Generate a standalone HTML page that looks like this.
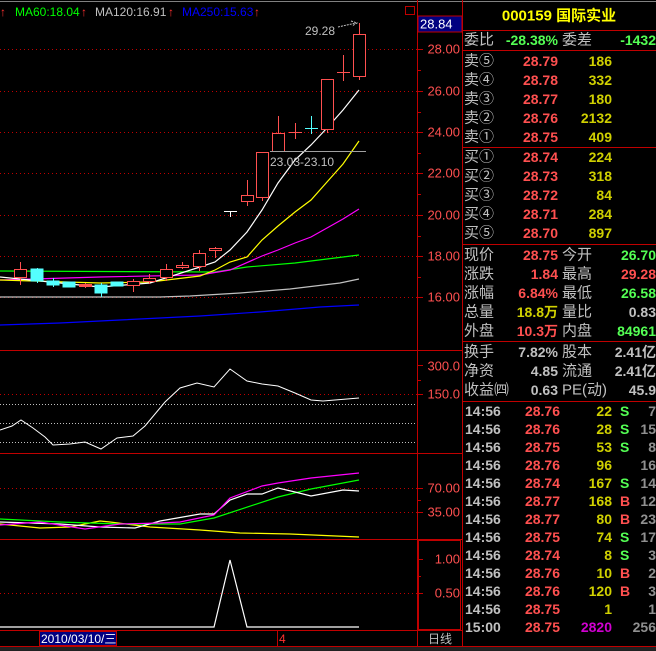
<!DOCTYPE html>
<html><head><meta charset="utf-8"><style>
html,body{margin:0;padding:0;background:#000;}
svg{display:block;}
text{font-family:"Liberation Sans","Noto Sans CJK SC",sans-serif;}
</style></head><body>
<svg width="656" height="651" viewBox="0 0 656 651" xmlns="http://www.w3.org/2000/svg">
<rect width="656" height="651" fill="#000"/>
<line x1="0" y1="1.5" x2="656" y2="1.5" stroke="#808080" stroke-width="1"/>
<!-- grid dotted lines -->
<g stroke="#c00000" stroke-dasharray="1,3" stroke-width="1">
<line x1="0" y1="49.5" x2="417" y2="49.5"/><line x1="0" y1="91.5" x2="417" y2="91.5"/>
<line x1="0" y1="132.5" x2="417" y2="132.5"/><line x1="0" y1="173.5" x2="417" y2="173.5"/>
<line x1="0" y1="215.5" x2="417" y2="215.5"/><line x1="0" y1="256.5" x2="417" y2="256.5"/>
<line x1="0" y1="297.5" x2="417" y2="297.5"/>
<line x1="0" y1="394.5" x2="417" y2="394.5"/>
<line x1="0" y1="488.5" x2="417" y2="488.5"/><line x1="0" y1="512.5" x2="417" y2="512.5"/>
<line x1="0" y1="593.5" x2="417" y2="593.5"/>
</g>
<g stroke="#c0c0c0" stroke-dasharray="1,2" stroke-width="1">
<line x1="0" y1="404.5" x2="417" y2="404.5"/><line x1="0" y1="423.5" x2="417" y2="423.5"/><line x1="0" y1="442.5" x2="417" y2="442.5"/>
</g>
<!-- frame lines -->
<g stroke="#c00000" stroke-width="1">
<line x1="417.5" y1="0" x2="417.5" y2="646"/>
<line x1="462.5" y1="0" x2="462.5" y2="651"/>
<line x1="0" y1="350.5" x2="462" y2="350.5"/>
<line x1="0" y1="453.5" x2="462" y2="453.5"/>
<line x1="0" y1="539.5" x2="462" y2="539.5"/>
<line x1="0" y1="630.5" x2="462" y2="630.5"/>
<line x1="0" y1="646.5" x2="656" y2="646.5"/>
<rect x="418.5" y="540.5" width="42" height="89" fill="none"/>
<line x1="277.5" y1="630" x2="277.5" y2="646"/>
<!-- y ticks -->
<line x1="417" y1="49.5" x2="423" y2="49.5"/><line x1="417" y1="91.5" x2="423" y2="91.5"/><line x1="417" y1="132.5" x2="423" y2="132.5"/><line x1="417" y1="173.5" x2="423" y2="173.5"/><line x1="417" y1="215.5" x2="423" y2="215.5"/><line x1="417" y1="256.5" x2="423" y2="256.5"/><line x1="417" y1="297.5" x2="423" y2="297.5"/>
<line x1="417" y1="70.5" x2="421" y2="70.5"/><line x1="417" y1="112.5" x2="421" y2="112.5"/><line x1="417" y1="153.5" x2="421" y2="153.5"/><line x1="417" y1="194.5" x2="421" y2="194.5"/><line x1="417" y1="236.5" x2="421" y2="236.5"/><line x1="417" y1="277.5" x2="421" y2="277.5"/>
<line x1="417" y1="365.5" x2="423" y2="365.5"/><line x1="417" y1="394.5" x2="423" y2="394.5"/><line x1="417" y1="380.5" x2="421" y2="380.5"/>
<line x1="417" y1="488.5" x2="423" y2="488.5"/><line x1="417" y1="512.5" x2="423" y2="512.5"/><line x1="417" y1="500.5" x2="421" y2="500.5"/>
<line x1="417" y1="559.5" x2="423" y2="559.5"/><line x1="417" y1="593.5" x2="423" y2="593.5"/><line x1="417" y1="576.5" x2="421" y2="576.5"/>
</g>
<!-- axis labels -->
<g fill="#ff5050" font-size="13" text-anchor="end" dominant-baseline="central">
<text x="460" y="49">28.00</text><text x="460" y="91">26.00</text><text x="460" y="132">24.00</text><text x="460" y="173">22.00</text><text x="460" y="215">20.00</text><text x="460" y="256">18.00</text><text x="460" y="297">16.00</text>
<text x="460" y="366">300.0</text><text x="460" y="394">150.0</text>
<text x="460" y="488">70.00</text><text x="460" y="512">35.00</text>
<text x="460" y="559">1.00</text><text x="460" y="593">0.50</text>
</g>
<rect x="418" y="16" width="44" height="16" fill="#000080" stroke="#c00000"/>
<text x="420" y="24" fill="#fff" font-size="13" dominant-baseline="central">28.84</text>
<!-- header -->
<g font-size="12" dominant-baseline="central">
<text x="0" y="12" fill="#ff3030">↑</text>
<text x="15" y="12" fill="#00ff00">MA60:18.04</text><text x="81" y="12" fill="#ff3030">↑</text>
<text x="95" y="12" fill="#c0c0c0">MA120:16.91</text><text x="168" y="12" fill="#ff3030">↑</text>
<text x="182" y="12" fill="#0000ff">MA250:15.63</text><text x="254" y="12" fill="#ff3030">↑</text>
</g>
<rect x="405.5" y="6.5" width="9" height="8" fill="none" stroke="#c00000"/>
<!-- MA lines -->
<g fill="none" stroke-width="1.2">
<polyline stroke="#0000ff" points="0,325 60,323 120,320 160,318 200,316 260,312 320,307 359,305"/>
<polyline stroke="#c0c0c0" points="0,297 160,297 190,296 240,293 290,289 340,283 359,279"/>
<polyline stroke="#00ff00" points="0,271 215,272 247,267 295,263 327,259 359,255"/>
<polyline stroke="#ff00ff" points="0,280 100,277 200,275 230,270 262,256 278,250 295,243 311,237 327,228 343,219 359,209"/>
<polyline stroke="#ffff00" points="0,280 100,283 150,282 200,276 215,270 230,262 247,257 262,240 278,226 295,212 311,200 327,182 343,164 359,141"/>
<polyline stroke="#ffffff" points="0,277 100,287 150,283 200,267 215,262 230,250 247,232 262,210 278,183 295,160 311,145 327,128 343,110 359,90"/>
</g>
<!-- candles -->
<g stroke="#ff5050" fill="#000" stroke-width="1">
<line x1="20.5" y1="262" x2="20.5" y2="285"/><rect x="14.5" y="269.5" width="12" height="8"/>
<line x1="85.5" y1="283" x2="85.5" y2="288"/><rect x="79.5" y="284.5" width="12" height="2" fill="#ff5050"/>
<line x1="133.5" y1="279" x2="133.5" y2="292"/><rect x="127.5" y="281.5" width="12" height="4"/>
<line x1="149.5" y1="274" x2="149.5" y2="284"/><rect x="143.5" y="278.5" width="12" height="3"/>
<line x1="166.5" y1="264" x2="166.5" y2="281"/><rect x="160.5" y="269.5" width="12" height="8"/>
<line x1="182.5" y1="262" x2="182.5" y2="269"/><rect x="176.5" y="265.5" width="12" height="2"/>
<line x1="199.5" y1="250" x2="199.5" y2="271"/><rect x="193.5" y="253.5" width="12" height="13"/>
<line x1="215.5" y1="247" x2="215.5" y2="258"/><rect x="209.5" y="248.5" width="12" height="2"/>
<line x1="247.5" y1="180" x2="247.5" y2="206"/><rect x="241.5" y="195.5" width="12" height="6"/>
<line x1="262.5" y1="152" x2="262.5" y2="201"/><rect x="256.5" y="152.5" width="12" height="45"/>
<line x1="278.5" y1="116" x2="278.5" y2="151"/><rect x="272.5" y="133.5" width="12" height="18"/>
<line x1="295.5" y1="123" x2="295.5" y2="139"/><line x1="289" y1="132.5" x2="302" y2="132.5"/>
<line x1="327.5" y1="79" x2="327.5" y2="133"/><rect x="321.5" y="79.5" width="12" height="50"/>
<line x1="343.5" y1="55" x2="343.5" y2="81"/><line x1="337" y1="72.5" x2="350" y2="72.5"/>
<line x1="359.5" y1="23" x2="359.5" y2="80"/><rect x="353.5" y="34.5" width="12" height="42"/>
</g>
<g stroke="#54ffff" fill="#54ffff">
<line x1="37.5" y1="268" x2="37.5" y2="283"/><rect x="31" y="269" width="12" height="12"/>
<line x1="53.5" y1="278" x2="53.5" y2="287"/><rect x="47" y="281" width="12" height="4"/>
<rect x="63" y="282" width="12" height="5"/>
<line x1="101.5" y1="283" x2="101.5" y2="297"/><rect x="95" y="285" width="12" height="8"/>
<rect x="111" y="282" width="12" height="4"/>
<line x1="311.5" y1="116" x2="311.5" y2="134" fill="none"/><line x1="305" y1="128.5" x2="318" y2="128.5"/>
</g>
<g stroke="#fff"><line x1="224" y1="211.5" x2="237" y2="211.5"/><line x1="230.5" y1="211" x2="230.5" y2="217"/></g>
<!-- annotations -->
<text x="305" y="31" fill="#c0c0c0" font-size="12" dominant-baseline="central">29.28</text>
<path d="M338 27 L356 23 M351 21 L357 23 L352 26" stroke="#c0c0c0" fill="none" stroke-dasharray="2,1"/>
<line x1="270" y1="151.5" x2="366" y2="151.5" stroke="#a0a0a0"/>
<text x="270" y="162" fill="#c0c0c0" font-size="12" dominant-baseline="central">23.03-23.10</text>
<!-- panel 2 -->
<polyline fill="none" stroke="#fff" points="0,430 12,426 21,420 33,428 45,437 53,445 70,444 85,442 101,449 117,438 133,436 145,426 165,402 180,388 197,383 214,387 230,369 247,381 262,384 278,386 295,393 311,400 323,401 359,398"/>
<!-- panel 3 -->
<g fill="none" stroke-width="1.2">
<polyline stroke="#ffff00" points="0,524 40,528 70,527 100,521 110,522 150,527 200,530 240,533 290,534 359,537"/>
<polyline stroke="#00ff00" points="0,519 60,522 120,524 180,524 214,518 278,497 311,489 359,480"/>
<polyline stroke="#fff" points="0,522 60,524 100,527 135,528 160,521 200,514 214,514 230,500 247,494 262,494 278,488 295,492 311,496 343,490 359,491"/>
<polyline stroke="#ff00ff" points="0,525 40,522 85,529 120,524 160,523 180,522 214,515 230,498 262,486 278,483 311,478 359,473"/>
</g>
<!-- panel 4 -->
<polyline fill="none" stroke="#fff" stroke-width="1.2" points="0,627 214,627 230,560 247,627 359,627"/>
<!-- date bar -->
<rect x="39.5" y="631.5" width="77" height="14" fill="#000080" stroke="#c00000"/>
<text x="41" y="639" fill="#fff" font-size="12" dominant-baseline="central">2010/03/10/三</text>
<text x="279" y="639" fill="#ff3030" font-size="12" dominant-baseline="central">4</text>
<text x="428" y="639" fill="#c0c0c0" font-size="12" dominant-baseline="central">日线</text>
<rect x="0" y="647" width="656" height="4" fill="#202020"/>
<!-- right panel separators -->
<g stroke="#c00000">
<line x1="462" y1="30.5" x2="656" y2="30.5"/><line x1="462" y1="50.5" x2="656" y2="50.5"/>
<line x1="462" y1="147.5" x2="656" y2="147.5"/><line x1="462" y1="244.5" x2="656" y2="244.5"/>
<line x1="462" y1="341.5" x2="656" y2="341.5"/><line x1="462" y1="401.5" x2="656" y2="401.5"/>
</g>
<g font-size="15" dominant-baseline="central" font-weight="bold">
<text x="559" y="16" fill="#ffff00" text-anchor="middle">000159 国际实业</text>
</g>
<g font-size="14" dominant-baseline="central" font-weight="bold">
<g fill="#c0c0c0" font-weight="normal" font-size="15">
<text x="464" y="40">委比</text><text x="562" y="40">委差</text>
<text x="464" y="61">卖⑤</text><text x="464" y="80">卖④</text><text x="464" y="99">卖③</text><text x="464" y="118">卖②</text><text x="464" y="137">卖①</text>
<text x="464" y="157">买①</text><text x="464" y="176">买②</text><text x="464" y="195">买③</text><text x="464" y="214">买④</text><text x="464" y="233">买⑤</text>
<text x="464" y="255">现价</text><text x="562" y="255">今开</text>
<text x="464" y="274">涨跌</text><text x="562" y="274">最高</text>
<text x="464" y="293">涨幅</text><text x="562" y="293">最低</text>
<text x="464" y="312">总量</text><text x="562" y="312">量比</text>
<text x="464" y="331">外盘</text><text x="562" y="331">内盘</text>
<text x="464" y="352">换手</text><text x="562" y="352">股本</text>
<text x="464" y="371">净资</text><text x="562" y="371">流通</text>
<text x="464" y="390">收益㈣</text><text x="562" y="390">PE(动)</text>
</g>
<g text-anchor="end">
<text x="558" y="40" fill="#54ff54">-28.38%</text><text x="656" y="40" fill="#54ff54">-1432</text>
<g fill="#ff5050">
<text x="558" y="61">28.79</text><text x="558" y="80">28.78</text><text x="558" y="99">28.77</text><text x="558" y="118">28.76</text><text x="558" y="137">28.75</text>
<text x="558" y="157">28.74</text><text x="558" y="176">28.73</text><text x="558" y="195">28.72</text><text x="558" y="214">28.71</text><text x="558" y="233">28.70</text>
<text x="558" y="255">28.75</text><text x="558" y="274">1.84</text><text x="558" y="293">6.84%</text><text x="558" y="331">10.3万</text>
<text x="656" y="274">29.28</text>
</g>
<g fill="#d0d000">
<text x="612" y="61">186</text><text x="612" y="80">332</text><text x="612" y="99">180</text><text x="612" y="118">2132</text><text x="612" y="137">409</text>
<text x="612" y="157">224</text><text x="612" y="176">318</text><text x="612" y="195">84</text><text x="612" y="214">284</text><text x="612" y="233">897</text>
<text x="558" y="312">18.8万</text>
</g>
<g fill="#54ff54"><text x="656" y="255">26.70</text><text x="656" y="293">26.58</text><text x="656" y="331">84961</text></g>
<g fill="#c0c0c0"><text x="656" y="312">0.83</text>
<text x="558" y="352">7.82%</text><text x="656" y="352">2.41亿</text>
<text x="558" y="371">4.85</text><text x="656" y="371">2.41亿</text>
<text x="558" y="390">0.63</text><text x="656" y="390">45.9</text></g>
</g>
<!-- ticks -->
<g fill="#c0c0c0">
<text x="465" y="411">14:56</text><text x="465" y="429">14:56</text><text x="465" y="447">14:56</text><text x="465" y="465">14:56</text><text x="465" y="483">14:56</text><text x="465" y="501">14:56</text><text x="465" y="519">14:56</text><text x="465" y="537">14:56</text><text x="465" y="555">14:56</text><text x="465" y="573">14:56</text><text x="465" y="591">14:56</text><text x="465" y="609">14:56</text><text x="465" y="627">15:00</text>
</g>
<g fill="#ff5050" text-anchor="end">
<text x="560" y="411">28.76</text><text x="560" y="429">28.76</text><text x="560" y="447">28.75</text><text x="560" y="465">28.76</text><text x="560" y="483">28.74</text><text x="560" y="501">28.77</text><text x="560" y="519">28.77</text><text x="560" y="537">28.75</text><text x="560" y="555">28.74</text><text x="560" y="573">28.76</text><text x="560" y="591">28.76</text><text x="560" y="609">28.75</text><text x="560" y="627">28.75</text>
</g>
<g fill="#d0d000" text-anchor="end">
<text x="612" y="411">22</text><text x="612" y="429">28</text><text x="612" y="447">53</text><text x="612" y="465">96</text><text x="612" y="483">167</text><text x="612" y="501">168</text><text x="612" y="519">80</text><text x="612" y="537">74</text><text x="612" y="555">8</text><text x="612" y="573">10</text><text x="612" y="591">120</text><text x="612" y="609">1</text>
<text x="612" y="627" fill="#d000d0">2820</text>
</g>
<g fill="#54ff54"><text x="620" y="411">S</text><text x="620" y="429">S</text><text x="620" y="447">S</text><text x="620" y="483">S</text><text x="620" y="537">S</text><text x="620" y="555">S</text></g>
<g fill="#ff5050"><text x="620" y="501">B</text><text x="620" y="519">B</text><text x="620" y="573">B</text><text x="620" y="591">B</text></g>
<g fill="#909090" text-anchor="end">
<text x="656" y="411">7</text><text x="656" y="429">15</text><text x="656" y="447">8</text><text x="656" y="465">16</text><text x="656" y="483">14</text><text x="656" y="501">12</text><text x="656" y="519">23</text><text x="656" y="537">17</text><text x="656" y="555">3</text><text x="656" y="573">2</text><text x="656" y="591">3</text><text x="656" y="609">1</text><text x="656" y="627">256</text>
</g>
</g>
</svg>
</body></html>
